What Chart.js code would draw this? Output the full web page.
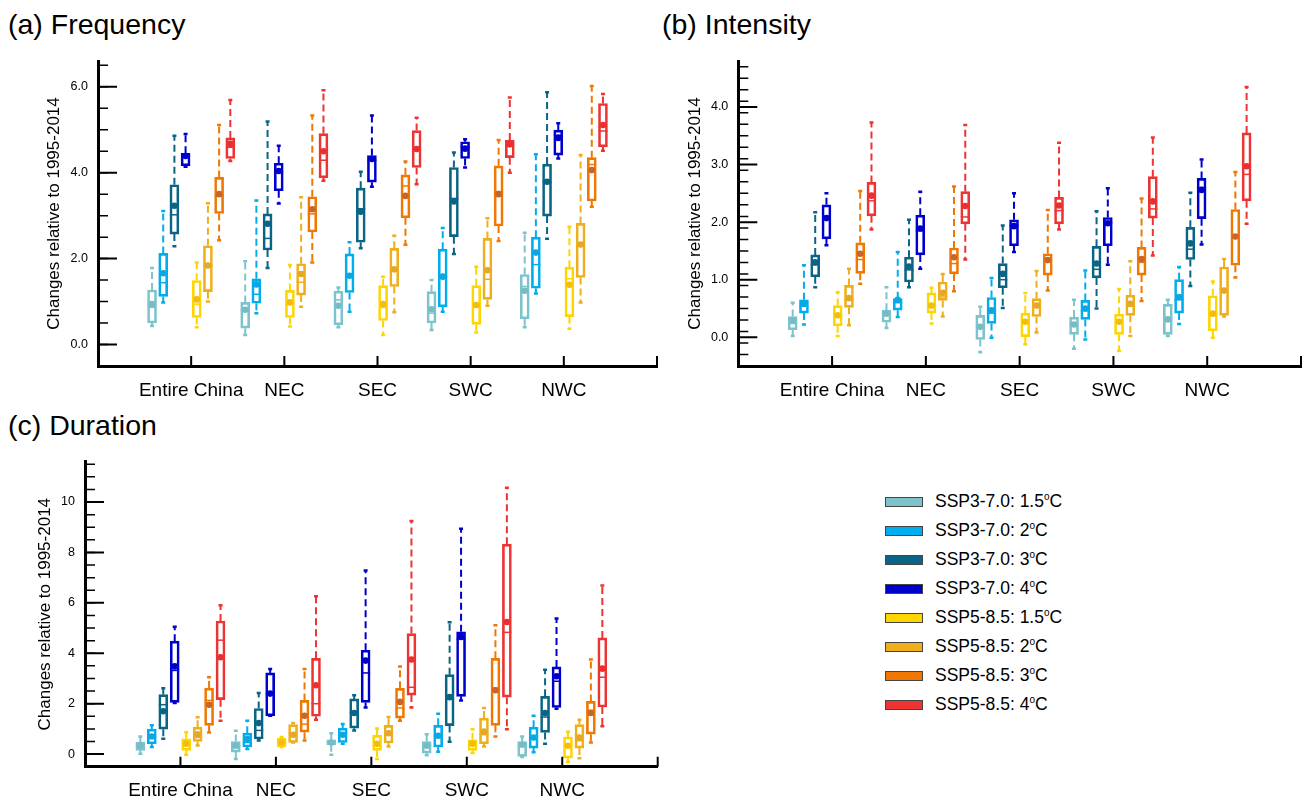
<!DOCTYPE html>
<html>
<head>
<meta charset="utf-8">
<script src="https://cdn.jsdelivr.net/npm/chart.js@4.4.1/dist/chart.umd.min.js"></script>
<style>
  body { margin: 0; background: #fff; font-family: 'Liberation Sans', Arial, sans-serif; }
  #page { position: relative; width: 1314px; height: 803px; overflow: hidden; }
  canvas { position: absolute; }
  .ptitle { position: absolute; font-size: 28.5px; line-height: 28px; color: #000; white-space: nowrap; }
  #legend { position: absolute; left: 885px; top: 487px; }
  .row { position: relative; height: 29px; font-size: 17.5px; line-height: 29px; color: #000; white-space: nowrap; }
  .sw { position: absolute; left: 0; top: 10px; width: 36px; height: 8px; border: 1px solid #444; }
  .lab { position: absolute; left: 50px; top: 0; }
  .lab sup { font-size: 10px; vertical-align: 7px; line-height: 0; }
</style>
</head>
<body>
<div id="page">
  <div class="ptitle" style="left:8px; top:10px">(a) Frequency</div>
  <div class="ptitle" style="left:662px; top:10px">(b) Intensity</div>
  <div class="ptitle" style="left:8px; top:411px">(c) Duration</div>
  <canvas id="chartA" width="680" height="410" style="left:0; top:0"></canvas>
  <canvas id="chartB" width="654" height="410" style="left:660px; top:0"></canvas>
  <canvas id="chartC" width="680" height="383" style="left:0; top:420px"></canvas>
  <div id="legend"></div>
</div>
<script>
const regions = ['Entire China', 'NEC', 'SEC', 'SWC', 'NWC'];
const scenarios = ['SSP3-7.0', 'SSP3-7.0', 'SSP3-7.0', 'SSP3-7.0', 'SSP5-8.5', 'SSP5-8.5', 'SSP5-8.5', 'SSP5-8.5'];
const warming = ['1.5', '2', '3', '4', '1.5', '2', '3', '4'];

// rows = 8 series (legend order), columns = regions
const freqMin = [
  [0.43, 0.22, 0.40, 0.34, 0.40], [0.98, 0.73, 0.76, 0.76, 1.19], [2.29, 1.78, 2.24, 2.11, 2.46], [4.14, 3.28, 3.67, 4.12, 4.33],
  [0.40, 0.42, 0.22, 0.28, 0.37], [1.00, 0.88, 0.75, 0.90, 0.98], [2.43, 1.91, 2.32, 2.41, 3.21], [4.27, 3.81, 3.73, 4.00, 4.51]
];
const freqQ1 = [
  [0.50, 0.38, 0.46, 0.50, 0.60], [1.12, 0.96, 1.21, 0.88, 1.31], [2.57, 2.20, 2.38, 2.51, 2.99], [4.16, 3.58, 3.78, 4.33, 4.41],
  [0.63, 0.63, 0.56, 0.47, 0.65], [1.23, 1.15, 1.35, 1.05, 1.56], [3.05, 2.62, 2.95, 2.76, 3.34], [4.33, 3.88, 4.12, 4.35, 4.60]
];
const freqMed = [
  [1.00, 0.80, 1.04, 0.73, 1.35], [1.44, 1.17, 1.60, 1.58, 1.86], [3.02, 2.47, 3.16, 3.40, 3.78], [4.38, 4.02, 4.29, 4.60, 4.87],
  [0.94, 0.95, 0.86, 0.88, 1.53], [1.84, 1.45, 1.72, 1.52, 2.33], [3.46, 3.04, 3.69, 3.56, 4.19], [4.59, 4.29, 4.55, 4.63, 4.97]
];
const freqQ3 = [
  [1.27, 0.98, 1.24, 1.23, 1.63], [2.12, 1.53, 2.11, 2.22, 2.50], [3.72, 3.04, 3.64, 4.12, 4.20], [4.45, 4.22, 4.40, 4.72, 4.99],
  [1.49, 1.26, 1.37, 1.37, 1.80], [2.30, 1.88, 2.24, 2.47, 2.82], [3.89, 3.44, 3.95, 4.16, 4.35], [4.81, 4.91, 4.98, 4.76, 5.61]
];
const freqMax = [
  [1.78, 1.94, 1.33, 1.50, 2.60], [3.11, 3.35, 2.38, 2.71, 4.43], [4.86, 5.19, 4.02, 4.47, 5.87], [4.90, 4.63, 5.33, 4.78, 5.15],
  [1.91, 1.85, 1.58, 1.81, 2.74], [3.29, 3.43, 2.53, 2.94, 4.41], [5.11, 5.33, 4.26, 4.76, 6.02], [5.69, 5.92, 5.28, 5.75, 5.83]
];
const freqMean = [
  [0.92, 0.81, 0.90, 0.82, 1.25], [1.66, 1.40, 1.60, 1.58, 2.14], [3.23, 2.81, 3.09, 3.33, 3.79], [4.39, 4.04, 4.32, 4.56, 4.81],
  [1.05, 0.98, 0.94, 0.92, 1.39], [1.84, 1.64, 1.75, 1.73, 2.33], [3.50, 3.15, 3.46, 3.50, 4.06], [4.67, 4.50, 4.55, 4.66, 5.11]
];

const intMin = [
  [0.02, 0.16, -0.26, -0.20, 0.02], [0.22, 0.35, -0.01, -0.04, 0.23], [0.87, 0.87, 0.51, 0.50, 0.89], [1.60, 1.19, 1.48, 1.26, 1.61],
  [0.02, 0.24, -0.12, -0.24, -0.01], [0.21, 0.36, 0.08, 0.02, 0.36], [0.93, 0.80, 0.81, 0.63, 1.04], [1.87, 1.35, 1.87, 1.42, 1.97]
];
const intQ1 = [
  [0.13, 0.26, -0.04, 0.05, 0.05], [0.42, 0.47, 0.24, 0.31, 0.42], [1.05, 0.96, 0.86, 1.03, 1.35], [1.71, 1.43, 1.59, 1.59, 2.06],
  [0.20, 0.42, 0.01, 0.05, 0.11], [0.52, 0.64, 0.36, 0.38, 0.38], [1.11, 1.10, 1.08, 1.08, 1.25], [2.11, 1.97, 1.97, 2.07, 2.37]
];
const intMed = [
  [0.24, 0.38, 0.18, 0.22, 0.31], [0.54, 0.60, 0.42, 0.46, 0.65], [1.26, 1.17, 1.00, 1.18, 1.53], [2.10, 1.85, 1.94, 1.99, 2.60],
  [0.35, 0.55, 0.27, 0.27, 0.41], [0.64, 0.70, 0.55, 0.54, 0.84], [1.35, 1.28, 1.34, 1.30, 1.77], [2.37, 2.09, 2.20, 2.23, 2.83]
];
const intQ3 = [
  [0.36, 0.47, 0.38, 0.35, 0.57], [0.65, 0.67, 0.69, 0.64, 1.00], [1.43, 1.39, 1.28, 1.58, 1.91], [2.30, 2.12, 2.04, 2.08, 2.76],
  [0.55, 0.77, 0.42, 0.40, 0.72], [0.90, 0.96, 0.67, 0.73, 1.22], [1.64, 1.55, 1.45, 1.56, 2.22], [2.69, 2.53, 2.43, 2.79, 3.55]
];
const intMax = [
  [0.60, 0.87, 0.53, 0.65, 0.65], [1.25, 1.48, 1.03, 1.16, 1.22], [2.17, 2.04, 1.94, 2.19, 2.51], [2.50, 2.53, 2.50, 2.59, 3.09],
  [0.78, 0.86, 0.77, 0.84, 0.97], [1.19, 1.10, 1.15, 1.32, 1.36], [2.54, 2.62, 2.21, 2.41, 2.87], [3.73, 3.69, 3.38, 3.47, 4.35]
];
const intMean = [
  [0.29, 0.41, 0.18, 0.22, 0.31], [0.58, 0.65, 0.47, 0.50, 0.70], [1.30, 1.23, 1.10, 1.28, 1.63], [2.07, 1.89, 1.93, 1.98, 2.56],
  [0.38, 0.55, 0.27, 0.27, 0.41], [0.68, 0.77, 0.55, 0.58, 0.81], [1.45, 1.39, 1.34, 1.36, 1.75], [2.46, 2.28, 2.29, 2.36, 2.97]
];

const durMin = [
  [0.01, -0.19, -0.03, -0.05, -0.12], [0.28, 0.20, 0.41, 0.09, 0.07], [0.61, 0.54, 0.94, 0.49, 0.41], [2.03, 1.52, 1.85, 2.13, 1.80],
  [-0.03, 0.28, -0.19, 0.04, -0.30], [0.34, 0.46, 0.30, 0.30, -0.16], [0.86, 0.54, 1.32, 0.70, 0.46], [1.32, 1.36, 1.85, 0.99, 1.10]
];
const durQ1 = [
  [0.15, 0.08, 0.37, 0.04, -0.09], [0.41, 0.28, 0.46, 0.28, 0.24], [0.99, 0.60, 1.03, 1.13, 0.86], [2.05, 1.52, 2.05, 2.29, 1.85],
  [0.15, 0.28, 0.15, 0.15, -0.16], [0.50, 0.46, 0.44, 0.41, 0.24], [1.14, 0.87, 1.43, 1.14, 0.79], [2.16, 1.50, 2.34, 2.26, 1.87]
];
const durMed = [
  [0.33, 0.33, 0.46, 0.33, 0.33], [0.70, 0.46, 0.83, 0.73, 0.66], [1.96, 0.94, 1.66, 2.19, 1.47], [3.32, 2.40, 3.22, 4.57, 2.89],
  [0.41, 0.46, 0.33, 0.41, 0.33], [0.66, 0.83, 0.81, 0.77, 0.53], [2.13, 1.19, 1.83, 2.62, 1.74], [4.52, 2.00, 2.65, 4.83, 3.05]
];
const durQ3 = [
  [0.48, 0.50, 0.57, 0.50, 0.50], [0.99, 0.83, 1.03, 1.14, 1.07], [2.36, 1.81, 2.19, 3.15, 2.29], [4.48, 3.22, 4.12, 4.85, 3.46],
  [0.61, 0.64, 0.74, 0.57, 0.68], [1.07, 1.17, 1.14, 1.43, 1.17], [2.62, 2.13, 2.61, 3.80, 2.09], [5.28, 3.80, 4.78, 8.33, 4.61]
];
const durMax = [
  [0.70, 0.93, 0.83, 0.79, 0.70], [1.14, 1.32, 1.19, 1.60, 1.52], [2.61, 2.42, 2.33, 5.23, 3.35], [5.05, 3.38, 7.28, 8.94, 5.38],
  [0.87, 0.68, 1.02, 0.99, 0.89], [1.46, 1.23, 1.47, 1.83, 1.36], [3.05, 3.38, 3.48, 5.11, 3.75], [5.91, 6.26, 9.25, 10.57, 6.69]
];
const durMean = [
  [0.33, 0.33, 0.46, 0.33, 0.37], [0.70, 0.60, 0.77, 0.73, 0.66], [1.70, 1.23, 1.63, 2.26, 1.63], [3.48, 2.40, 3.71, 4.65, 3.09],
  [0.41, 0.46, 0.41, 0.41, 0.33], [0.79, 0.77, 0.83, 0.89, 0.66], [1.96, 1.52, 2.07, 2.53, 1.63], [3.84, 2.73, 3.75, 5.24, 3.39]
];

const freqTicks = [0, 2, 4, 6];
const intTicks = [0, 1, 2, 3, 4];
const durTicks = [0, 2, 4, 6, 8, 10];
const xTicks = [1, 2, 3, 4, 5, 6];

const colors = ['#7cc3cc', '#00adee', '#0a6585', '#0000cc', '#ffd500', '#efae1c', '#f07800', '#ee3333'];
const dotColors = ['#74bcc6', '#0fa6e0', '#0a6585', '#0000cc', '#f2bd10', '#e6a628', '#c8662a', '#e83030'];

function boxX(region, series) {
  return region + 1 + (series - 3.5) * 0.12;
}

const boxDecor = {
  id: 'boxDecor',
  beforeDatasetsDraw(chart, args, opts) {
    const { ctx, scales: { x, y } } = chart;
    const st = opts.stats;
    ctx.save();
    colors.forEach((col, s) => {
      regions.forEach((r, i) => {
        const px = x.getPixelForValue(boxX(i, s));
        const yMin = y.getPixelForValue(st.min[s][i]);
        const yQ1 = y.getPixelForValue(st.q1[s][i]);
        const yMed = y.getPixelForValue(st.med[s][i]);
        const yQ3 = y.getPixelForValue(st.q3[s][i]);
        const yMax = y.getPixelForValue(st.max[s][i]);
        ctx.strokeStyle = col;
        ctx.lineWidth = 2;
        ctx.setLineDash([7, 4]);
        ctx.beginPath();
        ctx.moveTo(px, yQ3); ctx.lineTo(px, yMax);
        ctx.moveTo(px, yQ1); ctx.lineTo(px, yMin);
        ctx.stroke();
        ctx.setLineDash([]);
        // small caps at whisker ends
        ctx.lineWidth = 2.5;
        ctx.beginPath();
        ctx.moveTo(px - 2, yMax); ctx.lineTo(px + 2, yMax);
        ctx.moveTo(px - 2, yMin); ctx.lineTo(px + 2, yMin);
        ctx.stroke();
        // median
        ctx.lineWidth = 1.5;
        ctx.beginPath();
        ctx.moveTo(px - 4.5, yMed); ctx.lineTo(px + 4.5, yMed);
        ctx.stroke();
      });
    });
    ctx.restore();
  },
  afterDraw(chart, args, opts) {
    const { ctx, chartArea, scales: { x, y } } = chart;
    ctx.save();
    ctx.strokeStyle = '#000';
    // inward major ticks
    ctx.lineWidth = 2;
    ctx.beginPath();
    opts.yTicks.forEach(v => {
      const py = y.getPixelForValue(v);
      ctx.moveTo(chartArea.left, py); ctx.lineTo(chartArea.left + 19, py);
    });
    xTicks.forEach(v => {
      const px = x.getPixelForValue(v);
      ctx.moveTo(px, chartArea.bottom); ctx.lineTo(px, chartArea.bottom - 10);
    });
    ctx.stroke();
    // minor ticks
    ctx.lineWidth = 1.5;
    ctx.beginPath();
    for (let v = y.min + opts.minor; v <= y.max + 1e-6; v += opts.minor) {
      const py = y.getPixelForValue(v);
      ctx.moveTo(chartArea.left, py); ctx.lineTo(chartArea.left + 10, py);
    }
    ctx.stroke();
    ctx.restore();
  }
};

function makeChart(id, stats, yMin, yMax, yTicks, minor, decimals, yWidth, xHeight, pad, titlePad) {
  const datasets = [];
  colors.forEach((col, s) => {
    datasets.push({
      type: 'bar',
      data: regions.map((r, i) => ({ x: boxX(i, s), y: [stats.q1[s][i], stats.q3[s][i]] })),
      backgroundColor: 'rgba(0,0,0,0)',
      borderColor: col,
      borderWidth: 2,
      borderSkipped: false,
      barThickness: 9,
      grouped: false,
      order: 2
    });
  });
  colors.forEach((col, s) => {
    datasets.push({
      type: 'scatter',
      data: regions.map((r, i) => ({ x: boxX(i, s), y: stats.mean[s][i] })),
      pointRadius: 3.3,
      pointBackgroundColor: dotColors[s],
      pointBorderWidth: 0,
      showLine: false,
      order: 1
    });
  });

  return new Chart(document.getElementById(id), {
    type: 'bar',
    data: { datasets },
    options: {
      responsive: false,
      animation: false,
      events: [],
      layout: { padding: pad },
      plugins: {
        legend: { display: false },
        tooltip: { enabled: false },
        boxDecor: { stats, yTicks, minor }
      },
      scales: {
        x: {
          type: 'linear',
          min: 0,
          max: 6,
          offset: false,
          grid: { display: false, drawTicks: false },
          border: { display: true, color: '#000', width: 3 },
          afterBuildTicks: scale => { scale.ticks = xTicks.map(v => ({ value: v })); },
          afterFit: scale => { scale.height = xHeight; },
          ticks: {
            autoSkip: false,
            maxRotation: 0,
            padding: 13,
            color: '#000',
            font: { family: 'Liberation Sans', size: 19 },
            callback: v => regions[v - 1] || ''
          }
        },
        y: {
          type: 'linear',
          min: yMin,
          max: yMax,
          grid: { display: false, drawTicks: false },
          border: { display: true, color: '#000', width: 3 },
          afterBuildTicks: scale => { scale.ticks = yTicks.map(v => ({ value: v })); },
          afterFit: scale => { scale.width = yWidth; },
          ticks: {
            padding: 10,
            color: '#000',
            font: { family: 'Liberation Sans', size: 12.5 },
            callback: v => v.toFixed(decimals)
          },
          title: {
            display: true,
            text: 'Changes relative to 1995-2014',
            color: '#000',
            font: { family: 'Liberation Sans', size: 17 },
            padding: { top: titlePad, bottom: 0 }
          }
        }
      }
    },
    plugins: [boxDecor]
  });
}

makeChart('chartA',
  { min: freqMin, q1: freqQ1, med: freqMed, q3: freqQ3, max: freqMax, mean: freqMean },
  -0.5, 6.6, freqTicks, 0.5, 1, 98, 44, { top: 61, right: 23, bottom: 0, left: 0 }, 44.6);

makeChart('chartB',
  { min: intMin, q1: intQ1, med: intMed, q3: intQ3, max: intMax, mean: intMean },
  -0.5, 4.8, intTicks, 0.2, 1, 78.3, 44, { top: 61, right: 4, bottom: 0, left: 0 }, 25.6);

makeChart('chartC',
  { min: durMin, q1: durQ1, med: durMed, q3: durQ3, max: durMax, mean: durMean },
  -0.5, 11.6, durTicks, 0.5, 0, 85, 36.3, { top: 41.7, right: 22.3, bottom: 0, left: 0 }, 35.6);

// legend
const legend = document.getElementById('legend');
colors.forEach((col, s) => {
  const row = document.createElement('div');
  row.className = 'row';
  row.innerHTML = '<span class="sw" style="background:' + col + '"></span>' +
    '<span class="lab">' + scenarios[s] + ': ' + warming[s] + '<sup>o</sup>C</span>';
  legend.appendChild(row);
});
</script>
</body>
</html>
